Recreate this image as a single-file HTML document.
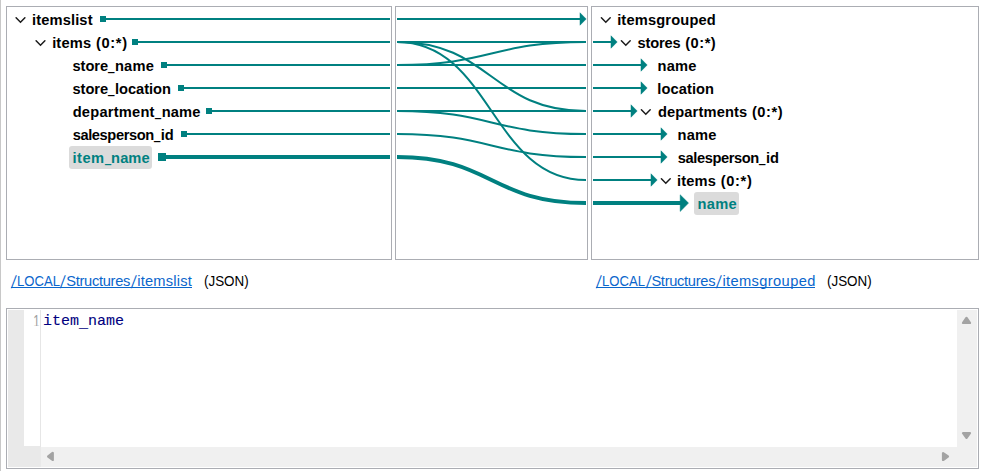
<!DOCTYPE html>
<html><head><meta charset="utf-8"><title>Mapping</title>
<style>
html,body{margin:0;padding:0;background:#fff;}
body{width:981px;height:471px;position:relative;overflow:hidden;font-family:"Liberation Sans",sans-serif;}
.edge{position:absolute;left:0;top:0;width:1px;height:471px;background:#c8c8c8;}
.panel{position:absolute;box-sizing:border-box;border:1px solid #abadb3;background:#fff;}
.t{position:absolute;font-weight:bold;font-size:14.67px;line-height:20px;height:20px;white-space:pre;color:#000;}
.s{display:inline-block;}
.t.sel{color:#008080;}
.selbg{position:absolute;background:#dbdbdb;border-radius:3px;}
.lnk{position:absolute;display:block;font-size:14.67px;line-height:20px;height:16px;white-space:pre;color:#0a66cc;text-decoration:none;border-bottom:1px solid #0a66cc;}
.plain{position:absolute;font-size:14.67px;line-height:20px;white-space:nowrap;color:#000;}
svg{position:absolute;left:0;top:0;}
.mono{position:absolute;font-family:"Liberation Mono",monospace;font-size:15px;line-height:20px;white-space:nowrap;}
</style></head><body>
<div class="edge"></div>
<div class="panel" style="left:6px;top:6px;width:386px;height:254px"></div>
<div class="panel" style="left:395px;top:6px;width:193px;height:254px"></div>
<div class="panel" style="left:591px;top:6px;width:388px;height:254px"></div>
<div class="selbg" style="left:69px;top:146px;width:83px;height:23px"></div>
<div class="selbg" style="left:694px;top:192px;width:45px;height:23px"></div>

<div class="t" style="left:32.10px;top:10px"><span class="s" style="letter-spacing:0.119px">itemslist</span></div>
<div class="t" style="left:52.15px;top:33px"><span class="s" style="letter-spacing:0.156px">items</span> <span class="s" style="letter-spacing:0.675px;margin-left:0.64px">(0:*)</span></div>
<div class="t" style="left:72.50px;top:56px"><span class="s" style="letter-spacing:-0.044px">store</span><span class="s" style="transform:translate(0,-19.60px) scale(0.782,2.2);transform-origin:0 0;margin-left:0.17px">_</span><span class="s" style="letter-spacing:0.200px;margin-left:-1.50px">name</span></div>
<div class="t" style="left:72.50px;top:79px"><span class="s" style="letter-spacing:-0.044px">store</span><span class="s" style="transform:translate(0,-19.60px) scale(0.782,2.2);transform-origin:0 0;margin-left:0.17px">_</span><span class="s" style="letter-spacing:-0.029px;margin-left:-1.50px">location</span></div>
<div class="t" style="left:72.67px;top:102px"><span class="s" style="letter-spacing:0.222px">department</span><span class="s" style="transform:translate(0,-19.60px) scale(0.740,2.2);transform-origin:0 0;margin-left:0.38px">_</span><span class="s" style="letter-spacing:0.167px;margin-left:-1.55px">name</span></div>
<div class="t" style="left:72.70px;top:125px"><span class="s" style="letter-spacing:-0.402px">salesperson</span><span class="s" style="transform:translate(0,-19.60px) scale(0.776,2.2);transform-origin:0 0;margin-left:0.28px">_</span><span class="s" style="letter-spacing:0.000px;margin-left:-1.45px">id</span></div>
<div class="t sel" style="left:72.50px;top:148px"><span class="s" style="letter-spacing:0.483px">item</span><span class="s" style="transform:translate(0,-19.60px) scale(0.746,2.2);transform-origin:0 0;margin-left:0.12px">_</span><span class="s" style="letter-spacing:0.083px;margin-left:-1.75px">name</span></div>
<div class="t" style="left:617.15px;top:10px"><span class="s" style="letter-spacing:0.157px">itemsgrouped</span></div>
<div class="t" style="left:637.60px;top:33px"><span class="s" style="letter-spacing:-0.175px">stores</span> <span class="s" style="letter-spacing:0.500px;margin-left:0.62px">(0:*)</span></div>
<div class="t" style="left:657.50px;top:56px"><span class="s" style="letter-spacing:0.183px">name</span></div>
<div class="t" style="left:657.30px;top:79px"><span class="s" style="letter-spacing:0.079px">location</span></div>
<div class="t" style="left:657.88px;top:102px"><span class="s" style="letter-spacing:0.135px">departments</span> <span class="s" style="letter-spacing:0.550px;margin-left:0.54px">(0:*)</span></div>
<div class="t" style="left:677.50px;top:125px"><span class="s" style="letter-spacing:0.183px">name</span></div>
<div class="t" style="left:677.80px;top:148px"><span class="s" style="letter-spacing:-0.403px">salesperson</span><span class="s" style="transform:translate(0,-19.60px) scale(0.776,2.2);transform-origin:0 0;margin-left:0.28px">_</span><span class="s" style="letter-spacing:-0.000px;margin-left:-1.45px">id</span></div>
<div class="t" style="left:677.00px;top:171px"><span class="s" style="letter-spacing:0.144px">items</span> <span class="s" style="letter-spacing:0.650px;margin-left:0.66px">(0:*)</span></div>
<div class="t sel" style="left:697.50px;top:194px"><span class="s" style="letter-spacing:0.317px">name</span></div>
<svg width="981" height="471" viewBox="0 0 981 471">
<path d="M16.1,17.8 L20.5,22.2 L24.9,17.8" fill="none" stroke="#1a1a1a" stroke-width="1.5" stroke-linecap="round" stroke-linejoin="miter"/>
<rect x="100" y="16" width="6" height="6" fill="#008080"/>
<rect x="100" y="18" width="290" height="2" fill="#008080"/>
<path d="M36.1,40.8 L40.5,45.2 L44.9,40.8" fill="none" stroke="#1a1a1a" stroke-width="1.5" stroke-linecap="round" stroke-linejoin="miter"/>
<rect x="132" y="39" width="6" height="6" fill="#008080"/>
<rect x="132" y="41" width="258" height="2" fill="#008080"/>
<rect x="161" y="62" width="6" height="6" fill="#008080"/>
<rect x="161" y="64" width="229" height="2" fill="#008080"/>
<rect x="178" y="85" width="6" height="6" fill="#008080"/>
<rect x="178" y="87" width="212" height="2" fill="#008080"/>
<rect x="206" y="108" width="6" height="6" fill="#008080"/>
<rect x="206" y="110" width="184" height="2" fill="#008080"/>
<rect x="181" y="131" width="6" height="6" fill="#008080"/>
<rect x="181" y="133" width="209" height="2" fill="#008080"/>
<rect x="158" y="153" width="8" height="8" fill="#008080"/>
<rect x="158" y="155" width="232" height="4" fill="#008080"/>
<path d="M601.4,17.8 L605.8,22.2 L610.1999999999999,17.8" fill="none" stroke="#1a1a1a" stroke-width="1.5" stroke-linecap="round" stroke-linejoin="miter"/>
<path d="M621.4,40.8 L625.8,45.2 L630.1999999999999,40.8" fill="none" stroke="#1a1a1a" stroke-width="1.5" stroke-linecap="round" stroke-linejoin="miter"/>
<rect x="593" y="41" width="19" height="2" fill="#008080"/>
<path d="M611,35.8 L617.2,42 L611,48.2 Z" fill="#008080" stroke="#008080" stroke-width="0.5" stroke-linejoin="round"/>
<rect x="593" y="64" width="49" height="2" fill="#008080"/>
<path d="M641,58.8 L647.2,65 L641,71.2 Z" fill="#008080" stroke="#008080" stroke-width="0.5" stroke-linejoin="round"/>
<rect x="593" y="87" width="49" height="2" fill="#008080"/>
<path d="M641,81.8 L647.2,88 L641,94.2 Z" fill="#008080" stroke="#008080" stroke-width="0.5" stroke-linejoin="round"/>
<path d="M641.4,109.8 L645.8,114.2 L650.1999999999999,109.8" fill="none" stroke="#1a1a1a" stroke-width="1.5" stroke-linecap="round" stroke-linejoin="miter"/>
<rect x="593" y="110" width="39" height="2" fill="#008080"/>
<path d="M631,104.8 L637.2,111 L631,117.2 Z" fill="#008080" stroke="#008080" stroke-width="0.5" stroke-linejoin="round"/>
<rect x="593" y="133" width="69" height="2" fill="#008080"/>
<path d="M661,127.8 L667.2,134 L661,140.2 Z" fill="#008080" stroke="#008080" stroke-width="0.5" stroke-linejoin="round"/>
<rect x="593" y="156" width="69" height="2" fill="#008080"/>
<path d="M661,150.8 L667.2,157 L661,163.2 Z" fill="#008080" stroke="#008080" stroke-width="0.5" stroke-linejoin="round"/>
<path d="M661.4,178.8 L665.8,183.2 L670.1999999999999,178.8" fill="none" stroke="#1a1a1a" stroke-width="1.5" stroke-linecap="round" stroke-linejoin="miter"/>
<rect x="593" y="179" width="59" height="2" fill="#008080"/>
<path d="M651,173.8 L657.2,180 L651,186.2 Z" fill="#008080" stroke="#008080" stroke-width="0.5" stroke-linejoin="round"/>
<rect x="593" y="201" width="89" height="4" fill="#008080"/>
<path d="M680.2,194.8 L688.5,203.1 L680.2,211.4 Z" fill="#008080" stroke="#008080" stroke-width="0.5" stroke-linejoin="round"/>
<rect x="397" y="18" width="184" height="2" fill="#008080"/>
<path d="M580,12.8 L586.2,19 L580,25.2 Z" fill="#008080" stroke="#008080" stroke-width="0.5" stroke-linejoin="round"/>
<rect x="397" y="41.0" width="189" height="2" fill="#008080"/>
<path d="M397,42 C491.5,42 491.5,111 586,111" fill="none" stroke="#008080" stroke-width="2"/>
<path d="M397,42 C491.5,42 491.5,180 586,180" fill="none" stroke="#008080" stroke-width="2"/>
<path d="M397,65 C491.5,65 491.5,42 586,42" fill="none" stroke="#008080" stroke-width="2"/>
<rect x="397" y="64.0" width="189" height="2" fill="#008080"/>
<rect x="397" y="87.0" width="189" height="2" fill="#008080"/>
<rect x="397" y="110.0" width="189" height="2" fill="#008080"/>
<path d="M397,111 C491.5,111 491.5,134 586,134" fill="none" stroke="#008080" stroke-width="2"/>
<path d="M397,134 C491.5,134 491.5,157 586,157" fill="none" stroke="#008080" stroke-width="2"/>
<path d="M397,157 C491.5,157 491.5,203 586,203" fill="none" stroke="#008080" stroke-width="4"/>
</svg>


<a class="lnk" href="#" style="left:11px;top:271px;width:181px"><span class="s" style="transform:translate(0,1.68px) skewX(-8.8deg) scaleY(1.2);transform-origin:0 14.12px;margin-left:0.20px">/</span><span class="s" style="transform:scaleX(0.893);transform-origin:0 0;margin-left:1.81px">LOCAL</span><span class="s" style="transform:translate(0,1.68px) skewX(-8.4deg) scaleY(1.2);transform-origin:0 14.12px;margin-left:-4.65px">/</span><span class="s" style="letter-spacing:-0.300px;margin-left:1.72px">Structures</span><span class="s" style="transform:translate(0,1.68px) skewX(-8.8deg) scaleY(1.2);transform-origin:0 14.12px;margin-left:1.00px">/</span><span class="s" style="letter-spacing:0.194px;margin-left:2.17px">itemslist</span></a>
<div class="plain" style="left:204.2px;top:271px;transform:scaleX(0.915);transform-origin:0 0">(JSON)</div>
<a class="lnk" href="#" style="left:596px;top:271px;width:219px"><span class="s" style="transform:translate(0,1.68px) skewX(-8.8deg) scaleY(1.2);transform-origin:0 14.12px;margin-left:0.30px">/</span><span class="s" style="transform:scaleX(0.893);transform-origin:0 0;margin-left:1.81px">LOCAL</span><span class="s" style="transform:translate(0,1.68px) skewX(-8.4deg) scaleY(1.2);transform-origin:0 14.12px;margin-left:-4.65px">/</span><span class="s" style="letter-spacing:-0.300px;margin-left:1.72px">Structures</span><span class="s" style="transform:translate(0,1.68px) skewX(-8.8deg) scaleY(1.2);transform-origin:0 14.12px;margin-left:1.00px">/</span><span class="s" style="letter-spacing:0.375px;margin-left:2.17px">itemsgrouped</span></a>
<div class="plain" style="left:827.3px;top:271px;transform:scaleX(0.915);transform-origin:0 0">(JSON)</div>
<div class="panel" style="left:6px;top:308px;width:973px;height:161px"></div>
<div style="position:absolute;left:8px;top:310px;width:16px;height:157px;background:#e9e9e9"></div>
<div style="position:absolute;left:24px;top:446px;width:17px;height:21px;background:#e9e9e9"></div>
<div style="position:absolute;left:40px;top:310px;width:1px;height:137px;background:#e6e6e6"></div>
<div style="position:absolute;left:41px;top:447px;width:936px;height:20px;background:#f0f0f0"></div>
<div style="position:absolute;left:957px;top:310px;width:20px;height:157px;background:#f0f0f0"></div>
<div class="mono" style="left:24.5px;width:14.6px;height:20px;text-align:right;top:312px;color:#a0a0a0;font-family:'Liberation Sans',sans-serif;font-size:16px;transform:scaleX(0.72);transform-origin:100% 0;clip-path:inset(0 0 6px 0)">1</div>
<div class="mono" style="left:43px;top:312px;color:#000080;-webkit-text-stroke:0.1px #000080">item<span class="s" style="transform:translateY(2px)">_</span>name</div>
<svg width="981" height="471" viewBox="0 0 981 471">
<g fill="#a3a3a3" stroke="#a3a3a3" stroke-width="2.4" stroke-linejoin="round">
<path d="M963.1,322.9 L969.9,322.9 L966.5,317.9 Z"/>
<path d="M963.1,433.1 L969.9,433.1 L966.5,437.8 Z"/>
<path d="M52.7,453.0 L52.7,459.9 L48.2,456.45 Z"/>
<path d="M943.1,453.2 L943.1,459.9 L947.9,456.55 Z"/>
</g>
</svg>
</body></html>
